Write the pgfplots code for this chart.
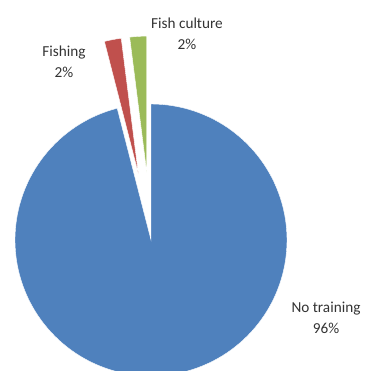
\documentclass[border=0pt]{standalone}
\usepackage{pgfplots}
\pgfplotsset{compat=1.18}
\usepackage{fontspec}
\setmainfont{Carlito}
\definecolor{cBlue}{HTML}{4F81BD}
\definecolor{cRed}{HTML}{C0504D}
\definecolor{cGreen}{HTML}{9BBB59}
% values (percent)
\def\vNo{96}
\def\vFishing{2}
\def\vCulture{2}
\begin{document}
\begin{tikzpicture}
\pgfmathsetmacro\cx{151}
\pgfmathsetmacro\cy{131}
\pgfmathsetmacro\R{136}
\pgfmathsetmacro\D{68}
\pgfmathsetmacro\tot{\vNo+\vFishing+\vCulture}
% start at top, clockwise
\pgfmathsetmacro\aA{90}
\pgfmathsetmacro\aB{\aA-360/\tot*\vNo}
\pgfmathsetmacro\aC{\aB-360/\tot*\vFishing}
\pgfmathsetmacro\aD{\aC-360/\tot*\vCulture}
\pgfmathsetmacro\mB{(\aB+\aC)/2}
\pgfmathsetmacro\mC{(\aC+\aD)/2}
\pgfmathsetmacro\oBx{\cx+\D*cos(\mB)}
\pgfmathsetmacro\oBy{\cy+\D*sin(\mB)}
\pgfmathsetmacro\oCx{\cx+\D*cos(\mC)}
\pgfmathsetmacro\oCy{\cy+\D*sin(\mC)}
\begin{axis}[
  scale only axis, width=367bp, height=371bp,
  xmin=0, xmax=367, ymin=0, ymax=371,
  hide axis, clip=true,
  font=\fontsize{15.3}{21}\selectfont,
]
\path[draw=none] (rel axis cs:0,0) rectangle (rel axis cs:1,1);
\addplot[fill=cBlue, draw=white, line width=0.4pt, domain=\aB:\aA, samples=150, variable=\t]
  ({\cx+\R*cos(\t)}, {\cy+\R*sin(\t)}) -- (axis cs:\cx,\cy) -- cycle;
\addplot[fill=cRed, draw=white, line width=0.4pt, domain=\aC:\aB, samples=20, variable=\t]
  ({\oBx+\R*cos(\t)}, {\oBy+\R*sin(\t)}) -- (axis cs:\oBx,\oBy) -- cycle;
\addplot[fill=cGreen, draw=white, line width=0.4pt, domain=\aD:\aC, samples=20, variable=\t]
  ({\oCx+\R*cos(\t)}, {\oCy+\R*sin(\t)}) -- (axis cs:\oCx,\oCy) -- cycle;
\node[align=center, text=black!80, inner sep=0pt] at (axis cs:187,337) {Fish culture\\2\%};
\node[align=center, text=black!80, inner sep=0pt] at (axis cs:64,309.5) {Fishing\\2\%};
\node[align=center, text=black!80, inner sep=0pt] at (axis cs:326,53) {No training\\96\%};
\end{axis}
\end{tikzpicture}
\end{document}
